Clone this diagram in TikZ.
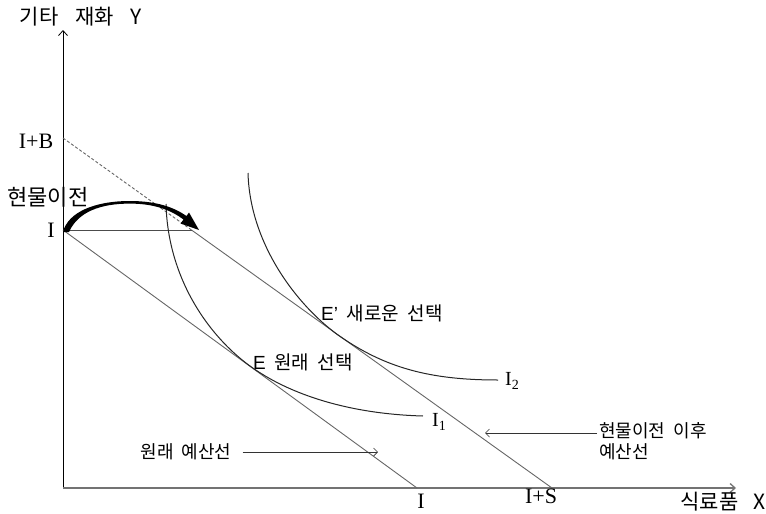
\documentclass[tikz,border=0pt]{standalone}
\usepackage{fontspec}
\setmainfont[WordSpace={2}]{Noto Sans CJK KR}
\newfontfamily\serifI{Liberation Serif}
\newfontfamily\latS{Liberation Sans}
\usetikzlibrary{arrows.meta}
\begin{document}
\begin{tikzpicture}[x=1pt,y=-1pt, font=\fontsize{19}{22}\selectfont,
 lbl/.style={inner sep=0pt, anchor=center},
 axislabel/.style={inner sep=0pt, anchor=center, font=\fontsize{21}{24}\selectfont},
 axisline/.style={-{Straight Barb[length=5pt,width=9pt]}, line width=0.8pt},
 budget/.style={draw=black!60, line width=0.9pt},
 icurve/.style={draw=black!85, line width=1pt},
 pointer/.style={-{Straight Barb[length=4pt,width=8pt]}, draw=black!80, line width=0.7pt},
 ilabel/.style={inner sep=0pt, font=\fontsize{22}{24}\selectfont\serifI},
 sublabel/.style={inner sep=0pt, font=\fontsize{20}{22}\selectfont\serifI},
 small/.style={font=\fontsize{18}{21}\selectfont}]
\useasboundingbox (0,0) rectangle (766,514);
% key points
\coordinate (O) at (63,488);
\coordinate (Ytop) at (63,30);
\coordinate (Xend) at (736,488);
\coordinate (IY) at (63,230);
\coordinate (IX) at (417,488);
\coordinate (IB) at (63,138);
\coordinate (K) at (191.5,230);
\coordinate (IS) at (552,488);
% axes
\draw[axisline] (O) -- (Ytop);
\draw[axisline, draw=black!55, line width=1.3pt] (O) -- (Xend);
% budget lines
\draw[budget] (IY) -- (IX);
\draw[budget, dash pattern=on 3pt off 2pt] (IB) -- (K);
\draw[budget] (K) -- (IS);
\draw[black!70, line width=0.8pt] (IY) -- (K);
% indifference curves
\draw[icurve] (166,204) .. controls (168,280) and (210,337) .. (250,366)
  .. controls (290,395) and (350,414) .. (423,416);
\draw[icurve] (248,173) .. controls (250,245) and (298,306) .. (338,335)
  .. controls (385,368) and (430,380) .. (498,380);
% in-kind transfer arrow
\fill (63,232) .. controls (68,212) and (95,201) .. (130,201)
  .. controls (158,201) and (175,208) .. (186.5,216) -- (189,212.5) -- (199,230)
  -- (180.5,223.5) -- (183.5,219.5) .. controls (172,211) and (156,203.6) .. (130,203.6)
  .. controls (100,203.6) and (78,212) .. (69,232) -- cycle;
% labels
\node[axislabel] (lY) at (81,17) {기타\hspace{0.8em}재화\hspace{0.8em}Y};
\node[axislabel] (lX) at (723,502) {식료품\hspace{0.7em}X};
\node[ilabel] (lIB) at (36,141) {I+B};
\node[ilabel] (lIY) at (51,230) {I};
\node[ilabel] (lIX) at (421,501) {I};
\node[ilabel] (lIS) at (541,496) {I+S};
\node[lbl, font=\fontsize{22}{25}\selectfont] (lhm) at (48,197) {현물이전};
\node[lbl, anchor=west] (lEp) at (321,313) {{\latS E’} 새로운 선택};
\node[lbl, anchor=west] (lE) at (253,362) {{\latS E} 원래 선택};
\node[sublabel, anchor=west] (lI1) at (432,422) {I\textsubscript{1}};
\node[sublabel, anchor=west] (lI2) at (505,381) {I\textsubscript{2}};
\node[lbl, small] (lorig) at (186,452) {원래 예산선};
\coordinate (p1) at (378,452);
\draw[pointer] ([xshift=11pt]lorig.east) -- (p1);
\node[lbl, small, anchor=north west, align=left] (lnew) at (599,422) {현물이전 이후\\예산선};
\coordinate (q0) at (597,433);
\coordinate (q1) at (485,433);
\draw[pointer] (q0) -- (q1);
\end{tikzpicture}
\end{document}
